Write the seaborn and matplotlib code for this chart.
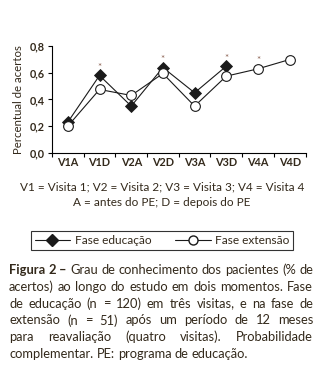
import matplotlib
matplotlib.use("Agg")
import matplotlib.pyplot as plt
from matplotlib.lines import Line2D
import seaborn as sns
import pandas as pd

# Data
visitas = ["V1A", "V1D", "V2A", "V2D", "V3A", "V3D", "V4A", "V4D"]
educacao_visitas = ["V1A", "V1D", "V2A", "V2D", "V3A", "V3D"]
educacao = [0.23, 0.58, 0.35, 0.64, 0.45, 0.65]
extensao = [0.20, 0.475, 0.43, 0.595, 0.35, 0.575, 0.63, 0.70]
significativos = ["V1D", "V2D", "V3D", "V4A"]
yticks = [0.0, 0.2, 0.4, 0.6, 0.8]
ytick_labels = ["0,0", "0,2", "0,4", "0,6", "0,8"]

TXT = "#33291b"
FONT = "Lato"

sns.set_theme(style="ticks")
plt.rcParams["font.family"] = [FONT, "DejaVu Sans"]

W, H = 327, 384
fig = plt.figure(figsize=(W / 100, H / 100), dpi=100)
ax = fig.add_axes([52 / W, 1 - 152.7 / H, 253.5 / W, 106.5 / H])

df_ext = pd.DataFrame({"visita": pd.Categorical(visitas, categories=visitas, ordered=True),
                       "valor": extensao})
df_edu = pd.DataFrame({"visita": pd.Categorical(educacao_visitas, categories=visitas, ordered=True),
                       "valor": educacao})
df_ext["pos"] = df_ext["visita"].cat.codes
df_edu["pos"] = df_edu["visita"].cat.codes

sns.lineplot(data=df_edu, x="pos", y="valor", ax=ax, color="#1a1a1a", lw=0.8,
             marker="D", markersize=6.0, markerfacecolor="#1a1a1a",
             markeredgecolor="#1a1a1a", markeredgewidth=0.6, zorder=2, legend=False)
sns.lineplot(data=df_ext, x="pos", y="valor", ax=ax, color="#1a1a1a", lw=0.8,
             marker="o", markersize=7, markerfacecolor="white",
             markeredgecolor="#1a1a1a", markeredgewidth=0.8, zorder=3, legend=False)

# significance marks above the higher value of each visit
for v in significativos:
    i = visitas.index(v)
    vals = [extensao[i]]
    if v in educacao_visitas:
        vals.append(educacao[educacao_visitas.index(v)])
    ax.text(i, max(vals) + 0.06, "*", ha="center", va="center",
            fontsize=7, color="#8a6050", zorder=4)

ax.set_xlim(-0.5, len(visitas) - 0.5)
ax.set_ylim(0, 0.8)
ax.set_yticks(yticks)
ax.set_yticklabels(ytick_labels)
ax.set_xticks(range(len(visitas)))
ax.set_xticklabels(visitas)
ax.set_xticks([i - 0.5 for i in range(len(visitas) + 1)], minor=True)
ax.tick_params(axis="x", which="major", length=0, pad=3, labelsize=7.8, labelcolor=TXT)
ax.tick_params(axis="x", which="minor", length=3, width=0.8, color="black", direction="out")
ax.tick_params(axis="y", length=3, width=0.8, color="black", pad=2,
               labelsize=7.8, labelcolor=TXT)
for lab in ax.get_xticklabels() + ax.get_yticklabels():
    lab.set_fontweight("bold")
ax.set_xlabel("")
ax.set_ylabel("Percentual de acertos", fontsize=8.2, color=TXT, labelpad=4)
for s in ["top", "right"]:
    ax.spines[s].set_visible(False)
for s in ["left", "bottom"]:
    ax.spines[s].set_color("black")
    ax.spines[s].set_linewidth(0.8)
ax.set_facecolor("white")
fig.patch.set_facecolor("white")

# explanatory notes
fig.text(162 / W, 1 - 187 / H, "V1 = Visita 1; V2 = Visita 2; V3 = Visita 3; V4 = Visita 4",
         ha="center", va="center", fontsize=8.5, color=TXT)
fig.text(162 / W, 1 - 203 / H, "A = antes do PE; D = depois do PE",
         ha="center", va="center", fontsize=8.5, color=TXT)

# legend
handles = [
    Line2D([], [], color="#1a1a1a", lw=0.8, marker="D", markersize=6,
           markerfacecolor="#1a1a1a", markeredgecolor="#1a1a1a"),
    Line2D([], [], color="#1a1a1a", lw=0.8, marker="o", markersize=6.5,
           markerfacecolor="white", markeredgecolor="#1a1a1a"),
]
leg = fig.legend(handles, ["Fase educação", "Fase extensão"], ncol=2,
                 loc="center", bbox_to_anchor=(162 / W, 1 - 240.5 / H),
                 frameon=True, fancybox=False, fontsize=8.6, handlelength=3.0,
                 handletextpad=0.35, columnspacing=2.0, borderpad=0.3,
                 borderaxespad=0, labelcolor=TXT)
leg.get_frame().set_edgecolor("black")
leg.get_frame().set_linewidth(0.8)

# justified caption
caption = [
    "Figura 2 – Grau de conhecimento dos pacientes (% de",
    "acertos) ao longo do estudo em dois momentos. Fase",
    "de educação (n = 120) em três visitas, e na fase de",
    "extensão (n = 51) após um período de 12 meses",
    "para reavaliação (quatro visitas). Probabilidade",
    "complementar. PE: programa de educação.",
]
x0, x1 = 9, 313
ys = [270, 287, 303.5, 320.5, 337, 353.5]
cap_size = 9.3
renderer = fig.canvas.get_renderer()
for li, (line, y) in enumerate(zip(caption, ys)):
    words = line.split(" ")
    items = []
    for wi, w in enumerate(words):
        bold = li == 0 and wi < 3
        t = fig.text(0, 1 - y / H, w, ha="left", va="center", fontsize=cap_size,
                     color=TXT, fontweight="bold" if bold else "normal")
        items.append(t)
    widths = [t.get_window_extent(renderer).width for t in items]
    space = fig.text(0, 0, "a a", fontsize=cap_size)
    sw = space.get_window_extent(renderer).width
    sa = fig.text(0, 0, "aa", fontsize=cap_size)
    sw -= sa.get_window_extent(renderer).width
    space.remove()
    sa.remove()
    if li < len(caption) - 1 and len(words) > 1:
        gap = (x1 - x0 - sum(widths)) / (len(words) - 1)
    else:
        gap = sw
    x = x0
    for t, w in zip(items, widths):
        t.set_x(x / W)
        x += w + gap

fig.savefig("out.png", dpi=100, facecolor="white")
